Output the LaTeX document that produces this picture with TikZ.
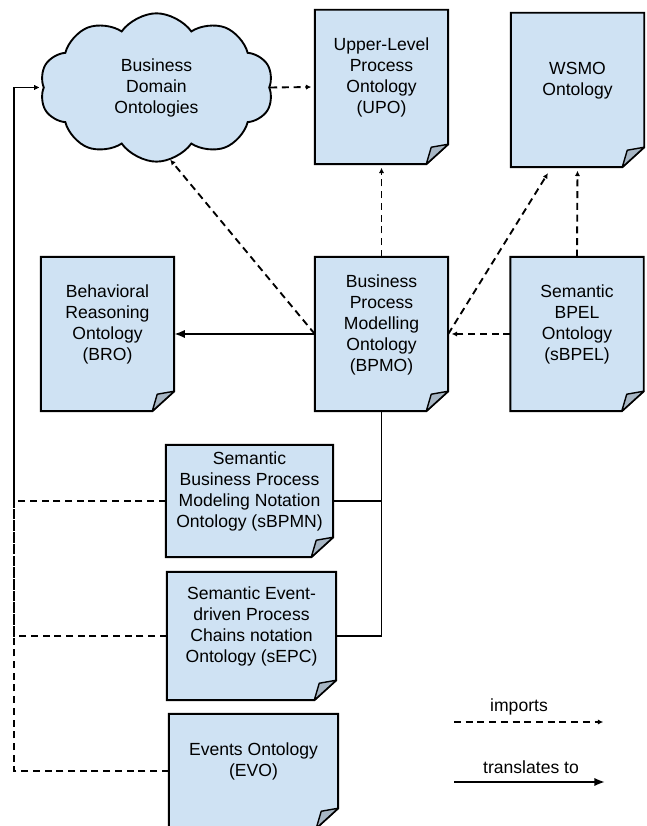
\documentclass[tikz,border=0pt]{standalone}
\usepackage{fontspec}
\setmainfont{Liberation Sans}
\usetikzlibrary{arrows.meta,shapes.symbols,backgrounds}
\definecolor{docblue}{HTML}{CFE2F3}
\definecolor{foldgray}{HTML}{A7B6C4}
% text sits a bit above the middle of a page
\newcommand{\doctxt}[1]{\raisebox{7.5pt}[\height][\depth]{\begin{tabular}{@{}c@{}}#1\end{tabular}}}
\begin{document}
\begin{tikzpicture}[
        txt/.style={font=\fontsize{15}{17.9}\selectfont, align=center},
        doc/.style={txt, inner sep=0pt},
        big/.style={doc, minimum width=3.99cm, minimum height=4.62cm},
        frame/.style={fill=docblue, draw=black, line width=1.7pt},
        fold/.style={fill=foldgray, draw=black, line width=1.2pt, line join=round},
        imports/.style={line width=1.6pt, dash pattern=on 6pt off 4pt, -{Latex[length=4.5pt,width=4.5pt]}, shorten >=3pt},
        translates/.style={line width=1.6pt, -{Latex[length=9pt,width=7pt]}},
        link/.style={line width=1.6pt}
    ]
    \useasboundingbox (0,0) rectangle (19.41,24.78);

    % top row
    \node[txt, cloud, cloud puffs=10, cloud puff arc=110, aspect=1.6, fill=docblue, draw=black, line width=1.6pt,
        minimum width=7cm, minimum height=4.45cm] (domain) at (4.695,22.155) {Business\\Domain\\Ontologies};
    \node[big] (upo) at (11.445,22.17) {\doctxt{Upper-Level\\Process\\Ontology\\(UPO)}};
    \node[big] (wsmo) at (17.325,22.08) {\doctxt{WSMO\\Ontology}};

    % middle row
    \node[big] (bro) at (3.225,14.76) {\doctxt{Behavioral\\Reasoning\\Ontology\\(BRO)}};
    \node[big] (bpmo) at (11.445,14.76) {\doctxt{Business\\Process\\Modelling\\Ontology\\(BPMO)}};
    \node[big] (sbpel) at (17.31,14.76) {\doctxt{Semantic\\BPEL\\Ontology\\(sBPEL)}};

    % lower column
    \node[doc, minimum width=5.01cm, minimum height=3.36cm] (sbpmn) at (7.485,9.75)
        {\doctxt{Semantic\\Business Process\\Modeling Notation\\Ontology (sBPMN)}};
    \node[doc, minimum width=5.07cm, minimum height=3.84cm] (sepc) at (7.545,5.70)
        {\doctxt{Semantic Event-\\driven Process\\Chains notation\\Ontology (sEPC)}};
    \node[doc, minimum width=5.07cm, minimum height=3.42cm] (evo) at (7.605,1.65)
        {\doctxt{Events Ontology\\(EVO)}};

    % pages with folded corner
    \begin{scope}[on background layer]
        \foreach \d in {upo,wsmo,bro,bpmo,sbpel,sbpmn,sepc,evo} {
            \draw[frame] (\d.north west) -- (\d.north east) -- ([yshift=0.6cm]\d.south east)
                -- ([xshift=-0.66cm]\d.south east) -- (\d.south west) -- cycle;
            \draw[fold] ([yshift=0.6cm]\d.south east) -- ([shift={(-0.51,0.51)}]\d.south east)
                -- ([xshift=-0.66cm]\d.south east) -- cycle;
        }
    \end{scope}

    % imports
    \coordinate (bus) at (0.42,0);
    \draw[imports] (domain.east) -- (upo.west);
    \draw[imports] (bpmo.north) -- (upo.south);
    \draw[imports] (bpmo.west) -- ([shift={(0.345,-2.085)}]domain.center);
    \draw[imports] (bpmo.east) -- ([shift={(1.17,-0.09)}]wsmo.south west);
    \draw[imports] (sbpel.north) -- (wsmo.south);
    \draw[imports] (sbpel.west) -- (bpmo.east);
    \draw[imports] (sbpmn.west) -- (sbpmn.west -| bus) |- (domain.west);
    \draw[imports] (sepc.west) -- (sepc.west -| bus) |- (domain.west);
    \draw[imports] (evo.west) -- (evo.west -| bus) |- (domain.west);

    % translates to
    \draw[translates] (bpmo.west) -- (bro.east);
    \draw[link] (bpmo.south) |- (sepc.east);
    \draw[link] (sbpmn.east) -- (sbpmn.east -| bpmo.south);

    % legend
    \coordinate (imp-a) at (13.62,3.12);
    \coordinate (imp-b) at (18.2,3.12);
    \coordinate (tr-a) at (13.62,1.32);
    \coordinate (tr-b) at (18.15,1.32);
    \node[txt] (imp-lbl) at (15.57,3.57) {imports};
    \node[txt] (tr-lbl) at (15.93,1.77) {translates to};
    \draw[imports] (imp-a) -- (imp-b);
    \draw[translates] (tr-a) -- (tr-b);
\end{tikzpicture}
\end{document}
